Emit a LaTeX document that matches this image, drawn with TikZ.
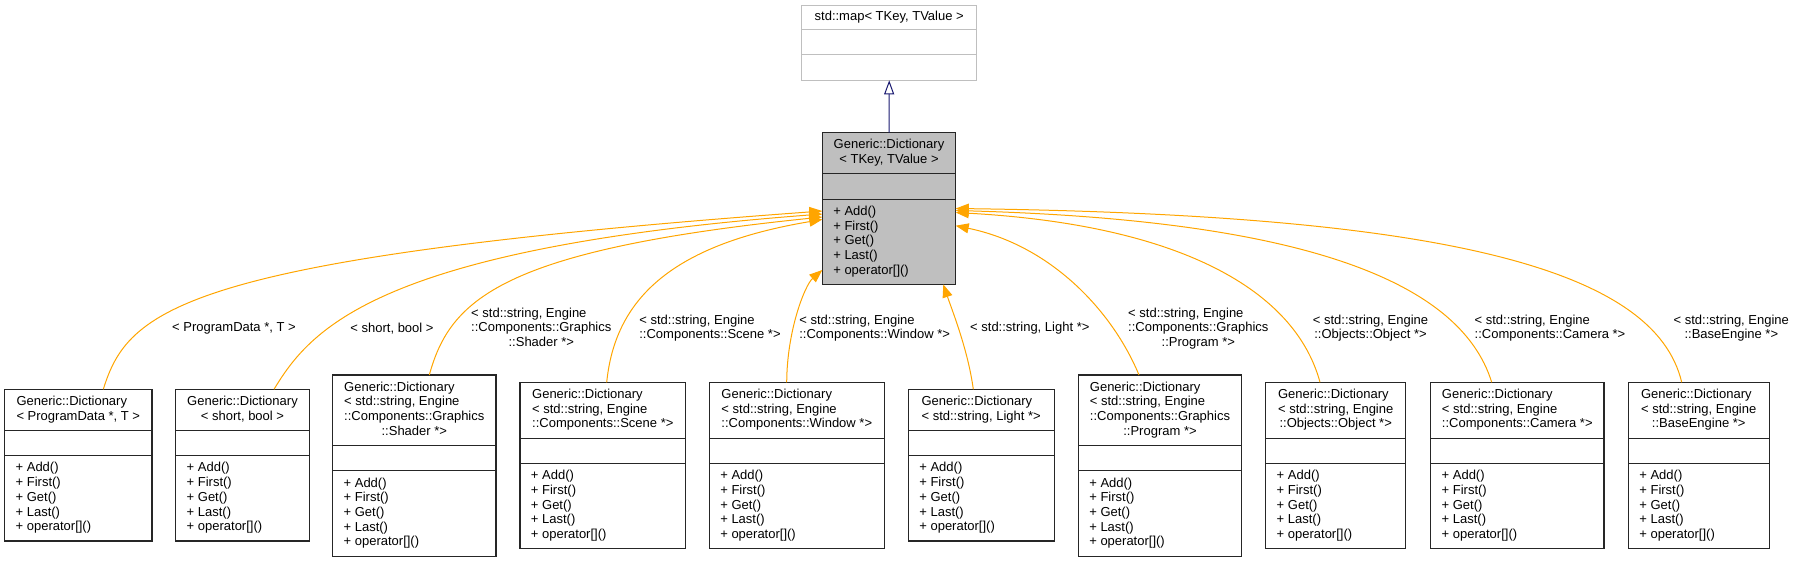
\documentclass[tikz,border=0pt]{standalone}
\usepackage{fontspec}
\setmainfont{Liberation Sans}
\usetikzlibrary{shapes.multipart, arrows.meta}
\newcommand{\lastln}[1]{\multicolumn{1}{@{}c@{}}{#1}}
\newcommand{\nopart}{\rule{0pt}{13.7pt}}
\newcommand{\dictops}{\begin{tabular}{@{}l@{}}+ Add()\\+ First()\\+ Get()\\+ Last()\\+ operator[]()\end{tabular}}
\begin{document}
\begin{tikzpicture}[x=1pt, y=-1pt,
    every node/.style={font=\fontsize{13}{14.7}\selectfont, text=black},
    cls/.style={rectangle split, rectangle split parts=3, draw=black!85, line width=1.1pt,
        inner xsep=11pt, inner ysep=5.3pt, outer sep=0pt, anchor=north, fill=white,
        rectangle split part align={center,left,left}},
    lbl/.style={inner sep=0pt},
    dep/.style={draw={rgb,255:red,255;green,165;blue,0}, line width=1pt,
        -{Triangle[length=13pt, width=10pt]}},
    inh/.style={draw={rgb,255:red,25;green,25;blue,112}, line width=1pt,
        -{Triangle[open, length=14pt, width=10pt, fill=white]}}
]
\useasboundingbox (0,0) rectangle (1796,560);
% base classes
\node[cls, draw=black!25, minimum width=175pt] (mp) at (889.2,5.7)
    {std::map< TKey, TValue >\nodepart{two}\nopart\nodepart{three}\nopart};
\node[cls, fill=black!25, minimum width=133.4pt] (gd) at (889,132.7)
    {\begin{tabular}{@{}l@{}}Generic::Dictionary\\\lastln{< TKey, TValue >}\end{tabular}
    \nodepart{two}\nopart\nodepart{three}\dictops};
% instantiations
\node[cls, minimum width=147.3pt] (pd) at (78.3,389.3)
    {\begin{tabular}{@{}l@{}}Generic::Dictionary\\\lastln{< ProgramData *, T >}\end{tabular}
    \nodepart{two}\nopart\nodepart{three}\dictops};
\node[cls, minimum width=133.6pt] (sb) at (242.5,389.3)
    {\begin{tabular}{@{}l@{}}Generic::Dictionary\\\lastln{< short, bool >}\end{tabular}
    \nodepart{two}\nopart\nodepart{three}\dictops};
\node[cls, minimum width=163.3pt] (sh) at (414.3,375)
    {\begin{tabular}{@{}l@{}}Generic::Dictionary\\< std::string, Engine\\::Components::Graphics\\\lastln{::Shader *>}\end{tabular}
    \nodepart{two}\nopart\nodepart{three}\dictops};
\node[cls, minimum width=165.7pt] (sc) at (602.8,382.3)
    {\begin{tabular}{@{}l@{}}Generic::Dictionary\\< std::string, Engine\\\lastln{::Components::Scene *>}\end{tabular}
    \nodepart{two}\nopart\nodepart{three}\dictops};
\node[cls, minimum width=175pt] (wn) at (796.8,382.3)
    {\begin{tabular}{@{}l@{}}Generic::Dictionary\\< std::string, Engine\\\lastln{::Components::Window *>}\end{tabular}
    \nodepart{two}\nopart\nodepart{three}\dictops};
\node[cls, minimum width=145.7pt] (lt) at (981.2,389.3)
    {\begin{tabular}{@{}l@{}}Generic::Dictionary\\\lastln{< std::string, Light *>}\end{tabular}
    \nodepart{two}\nopart\nodepart{three}\dictops};
\node[cls, minimum width=163.4pt] (pr) at (1160,375)
    {\begin{tabular}{@{}l@{}}Generic::Dictionary\\< std::string, Engine\\::Components::Graphics\\\lastln{::Program *>}\end{tabular}
    \nodepart{two}\nopart\nodepart{three}\dictops};
\node[cls, minimum width=140pt] (ob) at (1335.7,382.3)
    {\begin{tabular}{@{}l@{}}Generic::Dictionary\\< std::string, Engine\\\lastln{::Objects::Object *>}\end{tabular}
    \nodepart{two}\nopart\nodepart{three}\dictops};
\node[cls, minimum width=173.3pt] (cm) at (1517.3,382.3)
    {\begin{tabular}{@{}l@{}}Generic::Dictionary\\< std::string, Engine\\\lastln{::Components::Camera *>}\end{tabular}
    \nodepart{two}\nopart\nodepart{three}\dictops};
\node[cls, minimum width=140.7pt] (be) at (1698.7,382.3)
    {\begin{tabular}{@{}l@{}}Generic::Dictionary\\< std::string, Engine\\\lastln{::BaseEngine *>}\end{tabular}
    \nodepart{two}\nopart\nodepart{three}\dictops};
% inheritance
\draw[inh] (gd.north) -- (mp.south);
% template arguments
\draw[dep] ([xshift=25pt]pd.north) .. controls (128,310) and (180,258) .. ([yshift=-78.3pt]gd.north west);
\draw[dep] ([xshift=31.5pt]sb.north) .. controls (310,330) and (375,248) .. ([yshift=-81.3pt]gd.north west);
\draw[dep] ([xshift=15pt]sh.north) .. controls (450,300) and (500,250) .. ([yshift=-84.3pt]gd.north west);
\draw[dep] ([xshift=3.9pt]sc.north) .. controls (615,300) and (670,245) .. ([yshift=-86.8pt]gd.north west);
\draw[dep] ([xshift=-10.1pt]wn.north) .. controls (787,330) and (805,285) .. ([yshift=14.4pt]gd.south west);
\draw[dep] ([xshift=-7.9pt]lt.north) .. controls (968,350) and (952,310) .. ([xshift=54.3pt]gd.south);
\draw[dep] ([xshift=-21pt]pr.north) .. controls (1112,310) and (1050,245) .. ([yshift=-93pt]gd.north east);
\draw[dep] ([xshift=-15.7pt]ob.north) .. controls (1295,290) and (1180,225) .. ([yshift=-79.8pt]gd.north east);
\draw[dep] ([xshift=-25.6pt]cm.north) .. controls (1460,280) and (1300,220) .. ([yshift=-77.8pt]gd.north east);
\draw[dep] ([xshift=-17pt]be.north) .. controls (1655,270) and (1450,215) .. ([yshift=-75.8pt]gd.north east);
% labels
\node[lbl] (lpd) at (234,328.5) {< ProgramData *, T >};
\node[lbl] (lsb) at (392,328.5) {< short, bool >};
\node[lbl] (lsh) at (541.3,329) {\begin{tabular}{@{}l@{}}< std::string, Engine\\::Components::Graphics\\\lastln{::Shader *>}\end{tabular}};
\node[lbl] (lsc) at (710,328.5) {\begin{tabular}{@{}l@{}}< std::string, Engine\\\lastln{::Components::Scene *>}\end{tabular}};
\node[lbl] (lwn) at (874.7,328.5) {\begin{tabular}{@{}l@{}}< std::string, Engine\\\lastln{::Components::Window *>}\end{tabular}};
\node[lbl] (llt) at (1029.8,328.5) {< std::string, Light *>};
\node[lbl] (lpr) at (1198.3,329) {\begin{tabular}{@{}l@{}}< std::string, Engine\\::Components::Graphics\\\lastln{::Program *>}\end{tabular}};
\node[lbl] (lob) at (1370.5,328.5) {\begin{tabular}{@{}l@{}}< std::string, Engine\\\lastln{::Objects::Object *>}\end{tabular}};
\node[lbl] (lcm) at (1550,328.5) {\begin{tabular}{@{}l@{}}< std::string, Engine\\\lastln{::Components::Camera *>}\end{tabular}};
\node[lbl] (lbe) at (1731.3,328.5) {\begin{tabular}{@{}l@{}}< std::string, Engine\\\lastln{::BaseEngine *>}\end{tabular}};
\end{tikzpicture}
\end{document}
